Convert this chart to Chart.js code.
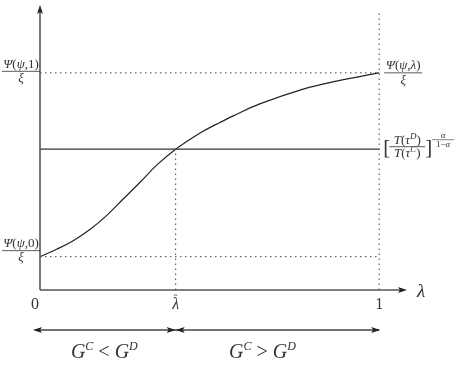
<!DOCTYPE html>
<html>
<head>
<meta charset="utf-8">
<script src="https://cdn.jsdelivr.net/npm/chart.js@4/dist/chart.umd.min.js"></script>
<style>
  body { margin: 0; background: #fff; }
  #wrap { width: 457px; height: 372px; }
</style>
</head>
<body>
<div id="wrap"><canvas id="chart" width="457" height="372"></canvas></div>
<script>
// values (x = lambda in [0,1], y in axis units 0..1)
const lambdaHat = 0.40
const levelT = 0.494      // [T(tau^D)/T(tau^C)]^(alpha/(1-alpha))
const psiOne = 0.762      // Psi(psi,1)/xi
const psiZero = 0.117     // Psi(psi,0)/xi
const curveX = [0, 0.049, 0.098, 0.147, 0.197, 0.246, 0.295, 0.344, 0.40, 0.472, 0.521, 0.570, 0.648, 0.776, 0.874, 1.0]
const curveY = [0.117, 0.143, 0.173, 0.212, 0.262, 0.320, 0.378, 0.438, 0.494, 0.551, 0.582, 0.611, 0.653, 0.705, 0.733, 0.762]
const xTicks = [0, lambdaHat, 1]
const xTickLabels = ['0', 'λ', '1']

const serif = '"Liberation Serif", "DejaVu Serif", serif'
const ink = '#333'

function pts(xs, ys) {
    return xs.map((x, i) => ({ x: x, y: ys[i] }))
}

// write a list of [text, italic, size, dy] runs, aligned on x
function rich(ctx, runs, x, y, align) {
    let w = 0
    runs.forEach(r => {
        ctx.font = (r[1] ? 'italic ' : '') + r[2] + 'px ' + serif
        r.w = ctx.measureText(r[0]).width
        w += r.w
    })
    let cx = align === 'center' ? x - w / 2 : x
    ctx.textAlign = 'left'
    runs.forEach(r => {
        ctx.font = (r[1] ? 'italic ' : '') + r[2] + 'px ' + serif
        ctx.fillText(r[0], cx, y + (r[3] || 0))
        cx += r.w
    })
    return w
}

function hline(ctx, x1, x2, y, lw) {
    ctx.beginPath()
    ctx.lineWidth = lw || 0.8
    ctx.moveTo(x1, y)
    ctx.lineTo(x2, y)
    ctx.stroke()
}

function head(ctx, x, y, dir) {
    // dir: 'up', 'right', 'left'
    ctx.beginPath()
    if (dir === 'up') {
        ctx.moveTo(x, y); ctx.lineTo(x - 3, y + 9); ctx.lineTo(x, y + 7); ctx.lineTo(x + 3, y + 9)
    } else if (dir === 'right') {
        ctx.moveTo(x, y); ctx.lineTo(x - 9, y - 3); ctx.lineTo(x - 7, y); ctx.lineTo(x - 9, y + 3)
    } else {
        ctx.moveTo(x, y); ctx.lineTo(x + 9, y - 3); ctx.lineTo(x + 7, y); ctx.lineTo(x + 9, y + 3)
    }
    ctx.closePath()
    ctx.fill()
}

const decorations = {
    id: 'decorations',
    afterDatasetsDraw(chart) {
        const ctx = chart.ctx
        const xs = chart.scales.x
        const ys = chart.scales.y
        const a = chart.chartArea
        const x0 = xs.getPixelForValue(0)
        const y0 = ys.getPixelForValue(0)
        ctx.save()
        ctx.strokeStyle = '#555'
        ctx.fillStyle = '#222'

        // axes with arrows
        ctx.beginPath()
        ctx.lineWidth = 1.6
        ctx.moveTo(x0, y0); ctx.lineTo(x0, a.top + 6)
        ctx.moveTo(x0, y0); ctx.lineTo(a.right - 6, y0)
        ctx.stroke()
        head(ctx, x0, a.top, 'up')
        head(ctx, a.right, y0, 'right')

        ctx.fillStyle = ink
        ctx.strokeStyle = ink
        ctx.textBaseline = 'alphabetic'

        // axis name
        rich(ctx, [['λ', true, 19]], a.right + 10, y0 + 7, 'left')

        // x tick labels
        xTicks.forEach((v, i) => {
            const px = xs.getPixelForValue(v) - (i === 0 ? 5 : 0)
            rich(ctx, [[xTickLabels[i], i === 1, 16]], px, y0 + 19, 'center')
            if (i === 1) rich(ctx, [['ˆ', false, 11]], px, y0 + 12, 'center')
        })

        // left fractions
        const lx = x0 - 19
        const num = (last) => [['Ψ', true, 13], ['(', false, 13], ['ψ', true, 13], [last, false, 13]]
        rich(ctx, num(',1)'), lx, ys.getPixelForValue(psiOne) - 5, 'center')
        hline(ctx, 2, x0, ys.getPixelForValue(psiOne) - 1.5)
        rich(ctx, [['ξ', true, 13]], lx, ys.getPixelForValue(psiOne) + 9, 'center')

        rich(ctx, num(',0)'), lx, ys.getPixelForValue(psiZero) - 10, 'center')
        hline(ctx, 2, x0, ys.getPixelForValue(psiZero) - 6)
        rich(ctx, [['ξ', true, 13]], lx, ys.getPixelForValue(psiZero) + 4, 'center')

        // right fractions
        const rx = xs.getPixelForValue(1) + 5
        const yr = ys.getPixelForValue(psiOne)
        rich(ctx, [['Ψ', true, 13], ['(', false, 13], ['ψ', true, 13], [',', false, 13], ['λ', true, 13], [')', false, 13]], rx + 19, yr - 4, 'center')
        hline(ctx, rx, rx + 38, yr)
        rich(ctx, [['ξ', true, 13]], rx + 19, yr + 11, 'center')

        const yt = ys.getPixelForValue(levelT) - 2.5
        rich(ctx, [['[', false, 21]], rx - 1, yt + 7, 'left')
        rich(ctx, [['T', true, 13], ['(', false, 13], ['τ', true, 13], ['D', true, 9, -5], [')', false, 13]], rx + 23, yt - 2.5, 'center')
        hline(ctx, rx + 5, rx + 41, yt)
        rich(ctx, [['T', true, 13], ['(', false, 13], ['τ', true, 13], ['C', true, 9, -5], [')', false, 13]], rx + 23, yt + 10, 'center')
        rich(ctx, [[']', false, 21]], rx + 41, yt + 7, 'left')
        rich(ctx, [['α', true, 9]], rx + 59, yt - 9, 'center')
        hline(ctx, rx + 48, rx + 70, yt - 7, 0.6)
        rich(ctx, [['1−', false, 9], ['α', true, 9]], rx + 59, yt, 'center')

        // regime arrows below the axis
        const ya = y0 + 40
        const pl = xs.getPixelForValue(lambdaHat)
        const p1 = xs.getPixelForValue(1)
        ctx.strokeStyle = '#444'
        ctx.fillStyle = '#222'
        hline(ctx, x0 - 5, p1, ya, 1.3)
        head(ctx, x0 - 7, ya, 'left')
        head(ctx, pl, ya, 'right')
        head(ctx, pl, ya, 'left')
        head(ctx, p1 + 1, ya, 'right')

        ctx.fillStyle = ink
        const g = (sign) => [['G', true, 20], ['C', true, 12, -8], [' ' + sign + ' ', false, 20], ['G', true, 20], ['D', true, 12, -8]]
        rich(ctx, g('<'), (x0 - 7 + pl) / 2, ya + 28, 'center')
        rich(ctx, g('>'), (pl + p1) / 2 - 15, ya + 28, 'center')
        ctx.restore()
    }
}

const dotted = { borderColor: '#444', borderWidth: 1, borderDash: [1.5, 3.5], pointRadius: 0, fill: false }

new Chart(document.getElementById('chart'), {
    type: 'line',
    data: {
        datasets: [
            Object.assign({ data: pts([0, 1], [psiOne, psiOne]) }, dotted),
            Object.assign({ data: pts([0, 1], [psiZero, psiZero]) }, dotted),
            Object.assign({ data: pts([1, 1], [0, 0.98]) }, dotted),
            Object.assign({ data: pts([lambdaHat, lambdaHat], [0, levelT]) }, dotted),
            {
                data: pts([0, 1], [levelT, levelT]),
                borderColor: '#333', borderWidth: 1.2, pointRadius: 0
            },
            {
                data: pts(curveX, curveY),
                borderColor: '#222', borderWidth: 1.2, pointRadius: 0,
                tension: 0.4
            }
        ]
    },
    options: {
        responsive: false,
        animation: false,
        layout: { padding: { left: 40, top: 5, right: 50, bottom: 82 } },
        plugins: { legend: { display: false }, tooltip: { enabled: false } },
        scales: {
            x: { type: 'linear', min: 0, max: 1.082, display: false },
            y: { min: 0, max: 1, display: false }
        }
    },
    plugins: [decorations]
})
</script>
</body>
</html>
